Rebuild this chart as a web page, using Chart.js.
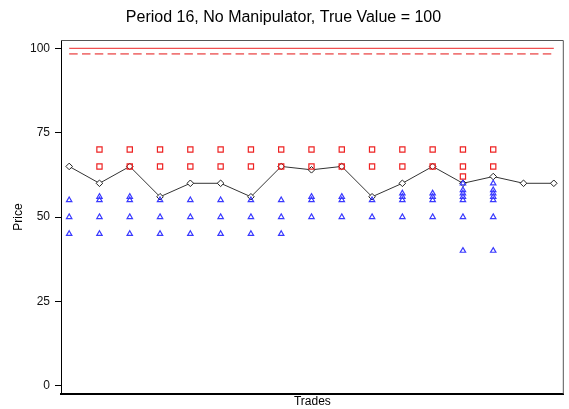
<!DOCTYPE html>
<html>
<head>
<meta charset="utf-8">
<script src="https://cdn.jsdelivr.net/npm/chart.js@4"></script>
<style>
html,body{margin:0;padding:0;background:#fff;}
#wrap{width:569px;height:409px;}
</style>
</head>
<body>
<div id="wrap"><canvas id="c" width="569" height="409"></canvas></div>
<script>
// ---- Data ----
const titleText = "Period 16, No Manipulator, True Value = 100";
const trades = [1,2,3,4,5,6,7,8,9,10,11,12,13,14,15,16,17];
const tradePrices = [65,60,65,56,60,60,56,65,64,65,56,60,65,60,62,60,60];
const asks = [
  [], [70,65], [70,65], [70,65], [70,65], [70,65], [70,65], [70,65],
  [70,65], [70,65], [70,65], [70,65], [70,65], [70,65,62], [70,65], [], []
];
const bids = [
  [55,50,45], [56,55,50,45], [56,55,50,45], [55,50,45], [55,50,45], [55,50,45],
  [55,50,45], [55,50,45], [56,55,50], [56,55,50], [55,50], [57,56,55,50],
  [57,56,55,50], [60,58,57,56,55,50,40], [60,58,57,56,55,50,40], [], []
];
const trueValue = 100;
const dashedLevel = 98.4;
const yTicks = [0,25,50,75,100];

// ---- Build point lists ----
const askPts = [];
asks.forEach((arr,i)=>arr.forEach(v=>askPts.push({x:trades[i], y:v})));
const bidPts = [];
bids.forEach((arr,i)=>arr.forEach(v=>bidPts.push({x:trades[i], y:v})));
const pricePts = trades.map((t,i)=>({x:t, y:tradePrices[i]}));
const first = trades[0], last = trades[trades.length-1];

const frame = {
  id:'frame',
  beforeDatasetsDraw(chart){
    const {ctx, chartArea:a} = chart;
    ctx.save();
    ctx.strokeStyle = '#555';
    ctx.lineWidth = 1;
    ctx.beginPath();
    ctx.moveTo(a.left, a.top+0.5);
    ctx.lineTo(a.right-0.5, a.top+0.5);
    ctx.lineTo(a.right-0.5, a.bottom);
    ctx.stroke();
    ctx.restore();
  }
};

Chart.defaults.font.family = "'Liberation Sans', Arial, sans-serif";
Chart.defaults.color = '#111';

new Chart(document.getElementById('c'), {
  type:'scatter',
  data:{
    datasets:[
      {label:'Bids', data:bidPts, pointStyle:'triangle', pointRadius:3.1,
       pointBorderColor:'#3a3aff', pointBackgroundColor:'rgba(255,255,255,0)', pointBorderWidth:1.2, showLine:false},
      {label:'Asks', data:askPts, pointStyle:'rect', pointRadius:3.7,
       pointBorderColor:'#ee2222', pointBackgroundColor:'rgba(255,255,255,0)', pointBorderWidth:1.2, showLine:false},
      {label:'Trades', data:pricePts, showLine:true, borderColor:'#333', borderWidth:1,
       pointStyle:'rectRot', pointRadius:3.3, pointBorderColor:'#222', pointBackgroundColor:'#fff', pointBorderWidth:1},
      {label:'True', data:[{x:first,y:trueValue},{x:last,y:trueValue}], showLine:true,
       borderColor:'#f05050', borderWidth:1.3, pointRadius:0},
      {label:'Dashed', data:[{x:first,y:dashedLevel},{x:last,y:dashedLevel}], showLine:true,
       borderColor:'#f07878', borderWidth:1.8, borderDash:[8.5,4.3], pointRadius:0}
    ]
  },
  options:{
    responsive:false,
    animation:false,
    devicePixelRatio:1,
    layout:{padding:{left:0,right:2,top:0,bottom:0}},
    plugins:{
      legend:{display:false},
      tooltip:{enabled:false},
      title:{display:true, text:titleText, color:'#000',
        font:{size:16, weight:'normal'}, padding:{top:8, bottom:12.8}}
    },
    scales:{
      x:{
        type:'linear', min:0.73, max:17.33,
        ticks:{display:false},
        grid:{display:false},
        border:{display:true, color:'#000', width:2},
        title:{display:true, text:'Trades', color:'#000', font:{size:12}, padding:{top:0,bottom:0}},
        afterFit(s){ s.height = 15; }
      },
      y:{
        type:'linear', min:-2.5, max:102.5,
        afterBuildTicks(s){ s.ticks = yTicks.map(v=>({value:v})); },
        ticks:{color:'#111', font:{size:12}, padding:5},
        grid:{display:true, drawOnChartArea:false, drawTicks:true, tickLength:6, color:'#000'},
        border:{display:true, color:'#000', width:1},
        title:{display:true, text:'Price', color:'#000', font:{size:12}, padding:{top:11.3,bottom:0}},
        afterFit(s){ s.width = 61; }
      }
    }
  },
  plugins:[frame]
});
</script>
</body>
</html>
